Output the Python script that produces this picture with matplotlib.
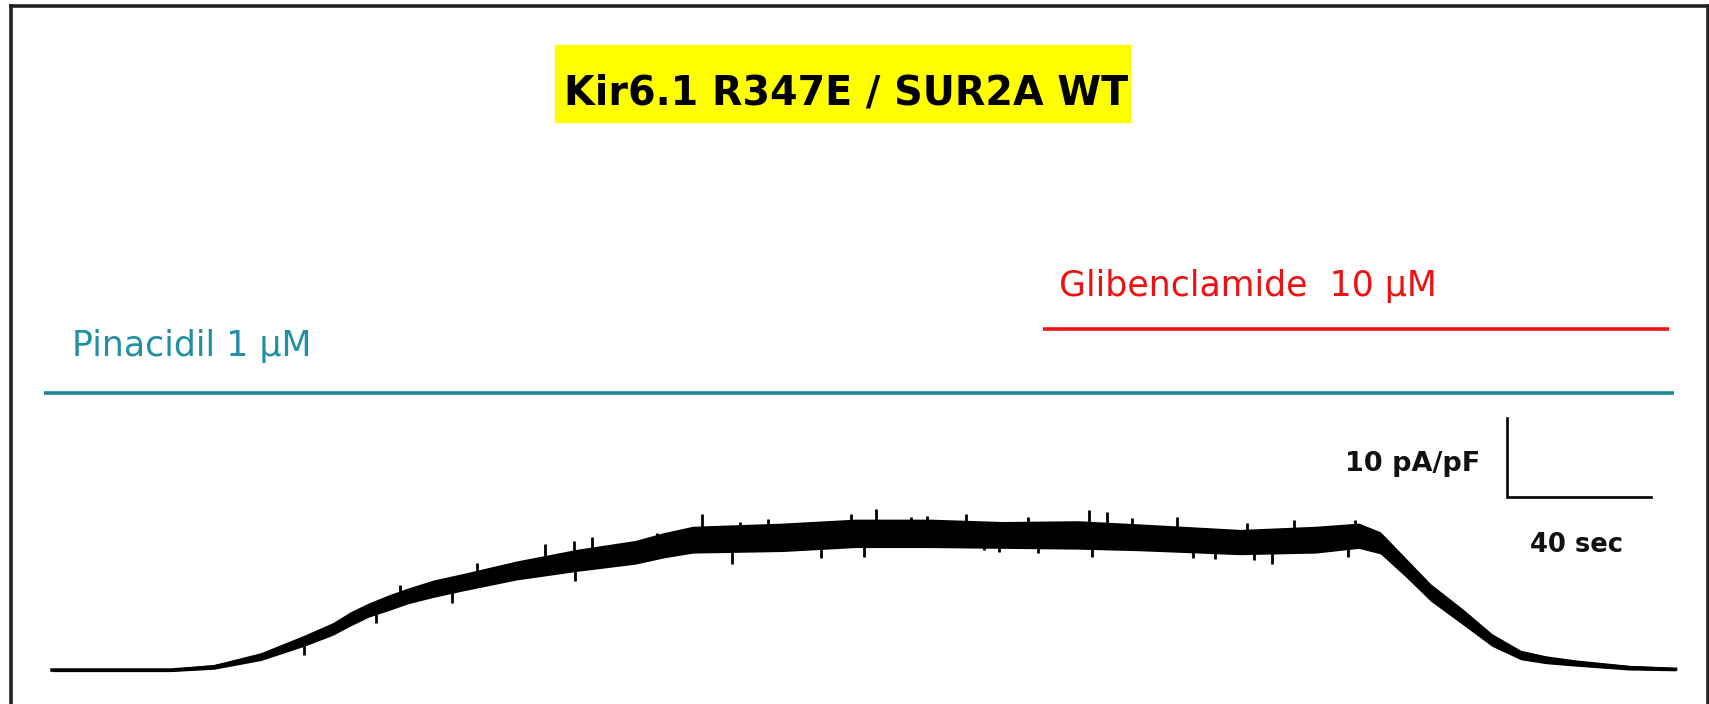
import matplotlib.pyplot as plt
from matplotlib.patches import Rectangle
from matplotlib.lines import Line2D

# whole-cell current trace (time in sec, current in pA/pF)
time_s = [0, 33, 45, 58, 70, 78, 83, 88, 94, 99, 106, 114, 129, 146, 162, 170, 178, 203, 223, 244,
          264, 285, 302, 330, 351, 363, 369, 376, 383, 392, 400, 408, 415, 423, 438, 451]
current = [0, 0, 0.4, 1.7, 3.7, 5.2, 6.5, 7.6, 8.6, 9.4, 10.3, 11.1, 12.6, 13.9, 14.9, 15.8, 16.5,
           16.8, 17.3, 17.3, 17.1, 17.1, 16.8, 16.2, 16.5, 17.0, 16.1, 13.0, 9.8, 6.7, 3.8, 1.9,
           1.3, 0.9, 0.3, 0.1]
# half width of the noise band at the same times
noise = [0.2, 0.2, 0.3, 0.5, 0.7, 0.8, 0.9, 0.9, 1.0, 1.0, 1.1, 1.1, 1.2, 1.4, 1.5, 1.6, 1.7,
         1.8, 1.8, 1.8, 1.7, 1.8, 1.7, 1.6, 1.7, 1.6, 1.4, 1.2, 1.1, 1.0, 0.8, 0.6,
         0.5, 0.4, 0.3, 0.2]

# single spikes standing out of the noise band
spike_t = [137, 145, 150, 168, 180.6, 191, 199, 222, 229, 238.6, 243, 254, 271, 288, 293,
           300, 312.5, 332, 345, 362, 96.7, 118,
           90, 70, 111, 145.3, 189, 213.6, 225.6, 259, 263, 274, 289, 317, 323, 334, 339, 360]
spike_lo = [13.2, 13.9, 14.2, 15.3, 16.5, 16.6, 16.7, 17.3, 17.3, 17.3, 17.3, 17.2, 17.1, 17.1, 17.0,
            16.8, 16.6, 16.3, 16.4, 17.0, 9.5, 11.6,
            5.9, 1.9, 8.5, 11.3, 13.4, 14.2, 14.3, 15.2, 14.9, 14.8, 14.3, 14.2, 14.0, 13.9, 13.4, 14.3]
spike_hi = [15.9, 16.3, 16.8, 17.3, 19.7, 18.7, 19.1, 19.7, 20.4, 19.4, 19.5, 19.7, 19.4, 20.3, 20.0,
            19.2, 19.4, 18.6, 19.0, 19.0, 10.8, 13.5,
            8.7, 4.0, 11.0, 13.9, 16.6, 17.0, 17.3, 17.2, 17.1, 17.1, 17.1, 16.6, 16.5, 16.3, 16.3, 16.9]

# drug application bars
drugs = ["Pinacidil 1 \u00b5M", "Glibenclamide  10 \u00b5M"]
drug_start = [-2.2, 275.3]
drug_end = [450.6, 449.2]
drug_colors = ["#1a8798", "#ee1111"]
drug_text_colors = ["#2090a2", "#ee1111"]

# scale bar
bar_sec = 40
bar_current = 10
bar_t0 = 404.2
bar_i0 = 21.9

title = "Kir6.1 R347E / SUR2A WT"

fig = plt.figure(figsize=(17.09, 7.04), dpi=100)
ax = fig.add_axes([0, 0, 1, 1])
ax.set_xlim(-14.44, 460.28)
ax.set_ylim(-4.30, 84.81)
ax.axis("off")

lower = [c - n for c, n in zip(current, noise)]
upper = [c + n for c, n in zip(current, noise)]
ax.fill_between(time_s, lower, upper, color="black", lw=0)
ax.plot(time_s, current, color="black", lw=2.5)
ax.vlines(spike_t, spike_lo, spike_hi, color="black", lw=2.0)

# drug bars
bar_y = [0.4418, 0.5327]
text_y = [0.4943, 0.5795]
text_x = [0.0421, 0.6197]
for i in range(len(drugs)):
    ax.plot([drug_start[i], drug_end[i]], [bar_y[i], bar_y[i]], color=drug_colors[i],
            lw=2.6, transform=ax.get_xaxis_transform(), solid_capstyle="butt")
    ax.text(text_x[i], text_y[i], drugs[i], color=drug_text_colors[i], fontsize=25,
            transform=ax.transAxes, ha="left", va="baseline")

# scale bar
ax.plot([bar_t0, bar_t0, bar_t0 + bar_sec], [bar_i0 + bar_current, bar_i0, bar_i0],
        color="black", lw=1.9, solid_joinstyle="miter")
ax.text(0.866, 0.331, "%d pA/pF" % bar_current, fontsize=19.5, fontweight="bold",
        transform=ax.transAxes, ha="right", va="baseline", color="#111111")
ax.text(0.9222, 0.2159, "%d sec" % bar_sec, fontsize=18.5, fontweight="bold",
        transform=ax.transAxes, ha="center", va="baseline", color="#111111")

# title with yellow box
fig.patches.append(Rectangle((0.3247, 0.8267), 0.3365, 0.1094, color="#ffff00",
                             transform=fig.transFigure, zorder=0))
fig.text(0.4950, 0.8509, title, fontsize=28.5, fontweight="bold", ha="center",
         va="baseline", color="black")

# frame round the picture (no bottom edge)
fr = "#222222"
fig.lines.append(Line2D([0.0064, 0.0064], [0, 0.9915], color=fr, lw=2.6, transform=fig.transFigure))
fig.lines.append(Line2D([0.0064, 0.9994], [0.9915, 0.9915], color=fr, lw=2.6, transform=fig.transFigure))
fig.lines.append(Line2D([0.9994, 0.9994], [0, 0.9915], color=fr, lw=2.6, transform=fig.transFigure))

fig.savefig("out.png", dpi=100, facecolor="white")
